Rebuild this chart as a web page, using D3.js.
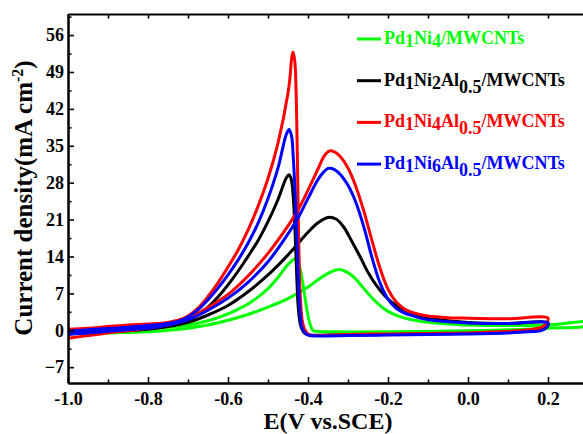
<!DOCTYPE html>
<html>
<head>
<meta charset="utf-8">
<script src="https://cdn.jsdelivr.net/npm/d3@7"></script>
<style>
  body { margin: 0; background: #fff; }
  svg text { font-family: "Times New Roman", "Liberation Serif", serif; font-weight: bold; }
</style>
</head>
<body>
<div id="canvas"></div>
<script>
"use strict"

// DATA: potential (V vs SCE), current density (mA cm-2), in scan order
// forward scan -1.0 -> 0.2, then backward scan 0.2 -> -1.0

let seriesNames = ["Pd1Ni4/MWCNTs", "Pd1Ni2Al0.5/MWCNTs", "Pd1Ni4Al0.5/MWCNTs", "Pd1Ni6Al0.5/MWCNTs"];

let scanPd1Ni4 = [
  [-1.0, -0.6], [-0.9, -0.5], [-0.8, -0.3], [-0.75, 0.0], [-0.70, 0.4], [-0.65, 1.0],
  [-0.60, 1.9], [-0.55, 3.0], [-0.50, 4.4], [-0.45, 6.0], [-0.40, 8.2], [-0.375, 9.6],
  [-0.35, 10.8], [-0.3275, 11.5], [-0.31, 11.3], [-0.29, 10.4], [-0.27, 8.8], [-0.25, 7.0],
  [-0.23, 5.4], [-0.21, 4.1], [-0.19, 3.2], [-0.17, 2.6], [-0.14, 2.0], [-0.10, 1.5],
  [-0.05, 1.2], [0.0, 1.0], [0.1, 0.9], [0.2, 1.0], [0.3, 1.5],
  [0.298, 0.9], [0.2, 0.4], [0.1, 0.1], [0.0, -0.1], [-0.2, -0.3], [-0.34, -0.3],
  [-0.38, -0.2], [-0.388, 0.0], [-0.396, 1.5], [-0.403, 4.0], [-0.411, 8.0], [-0.42, 11.8],
  [-0.427, 13.2], [-0.4325, 13.5], [-0.44, 13.2], [-0.45, 12.5], [-0.4625, 11.3],
  [-0.475, 10.0], [-0.50, 7.9], [-0.525, 6.3], [-0.55, 5.0], [-0.575, 4.0], [-0.60, 3.1],
  [-0.625, 2.4], [-0.65, 1.8], [-0.70, 1.0], [-0.75, 0.6], [-0.85, 0.2], [-0.95, -0.1],
  [-1.0, -0.3]
];

let scanPd1Ni2Al = [
  [-1.0, -0.6], [-0.9, -0.3], [-0.8, 0.2], [-0.75, 0.7], [-0.70, 1.5], [-0.65, 2.9],
  [-0.60, 4.7], [-0.55, 7.3], [-0.50, 10.5], [-0.45, 14.3], [-0.40, 18.6], [-0.375, 20.4],
  [-0.35, 21.4], [-0.33, 21.1], [-0.31, 19.5], [-0.29, 16.8], [-0.27, 14.0], [-0.25, 11.0],
  [-0.23, 8.6], [-0.21, 6.7], [-0.19, 5.3], [-0.17, 4.3], [-0.15, 3.6], [-0.12, 2.8],
  [-0.10, 2.4], [-0.05, 1.8], [0.0, 1.5], [0.1, 1.3], [0.2, 1.4],
  [0.197, 0.6], [0.185, 0.1], [0.15, -0.2], [0.1, -0.4], [0.0, -0.6], [-0.2, -0.8],
  [-0.35, -0.9], [-0.395, -0.9], [-0.408, -0.6], [-0.418, 0.8], [-0.424, 4.0],
  [-0.428, 10.0], [-0.432, 18.0], [-0.4367, 25.0], [-0.442, 28.7], [-0.4475, 29.5],
  [-0.455, 28.8], [-0.4625, 27.4], [-0.475, 24.8], [-0.50, 20.6], [-0.525, 17.0],
  [-0.55, 14.0], [-0.575, 11.2], [-0.60, 8.6], [-0.625, 6.3], [-0.65, 4.4], [-0.675, 3.0],
  [-0.70, 2.0], [-0.725, 1.4], [-0.75, 1.1], [-0.85, 0.6], [-0.95, 0.1], [-1.0, -0.2]
];

let scanPd1Ni4Al = [
  [-1.0, -1.5], [-0.95, -1.0], [-0.9, -0.5], [-0.85, -0.1], [-0.8, 0.4], [-0.75, 1.1],
  [-0.70, 2.3], [-0.65, 4.3], [-0.60, 6.8], [-0.55, 10.3], [-0.50, 14.6], [-0.45, 19.8],
  [-0.425, 22.8], [-0.40, 26.6], [-0.375, 30.6], [-0.36, 33.0], [-0.3475, 34.0],
  [-0.335, 33.9], [-0.32, 33.0], [-0.30, 30.8], [-0.28, 27.2], [-0.26, 22.5], [-0.24, 17.0],
  [-0.22, 11.8], [-0.20, 7.8], [-0.18, 5.4], [-0.16, 4.1], [-0.14, 3.4], [-0.12, 3.0],
  [-0.10, 2.7], [-0.05, 2.4], [0.0, 2.3], [0.1, 2.2], [0.2, 2.3],
  [0.197, 1.4], [0.185, 0.6], [0.15, 0.1], [0.1, -0.2], [0.0, -0.5], [-0.1, -0.6],
  [-0.2, -0.7], [-0.3, -0.8], [-0.37, -1.0], [-0.395, -0.9], [-0.405, -0.3], [-0.413, 1.2],
  [-0.419, 6.0], [-0.423, 16.0], [-0.426, 30.0], [-0.429, 43.0], [-0.433, 51.0],
  [-0.4375, 52.8], [-0.441, 51.5], [-0.445, 48.0], [-0.45, 45.0], [-0.475, 35.5],
  [-0.50, 28.8], [-0.525, 23.5], [-0.55, 19.0], [-0.575, 15.2], [-0.60, 12.0],
  [-0.625, 9.0], [-0.65, 6.4], [-0.675, 4.2], [-0.70, 2.7], [-0.725, 1.9], [-0.75, 1.5],
  [-0.80, 1.2], [-0.85, 1.0], [-0.90, 0.7], [-0.95, 0.4], [-1.0, 0.2]
];

let scanPd1Ni6Al = [
  [-1.0, -0.8], [-0.95, -0.5], [-0.9, -0.2], [-0.85, 0.1], [-0.8, 0.4], [-0.75, 1.0],
  [-0.70, 2.0], [-0.65, 3.8], [-0.60, 6.1], [-0.55, 9.1], [-0.50, 13.0], [-0.45, 18.3],
  [-0.425, 21.3], [-0.40, 25.0], [-0.375, 28.6], [-0.36, 30.1], [-0.35, 30.7], [-0.34, 30.7],
  [-0.325, 30.0], [-0.30, 27.5], [-0.28, 24.2], [-0.26, 19.5], [-0.24, 13.8], [-0.22, 9.0],
  [-0.20, 5.9], [-0.18, 4.2], [-0.16, 3.3], [-0.14, 2.8], [-0.12, 2.3], [-0.10, 2.0],
  [-0.05, 1.6], [0.0, 1.4], [0.1, 1.3], [0.2, 1.4],
  [0.197, 0.6], [0.185, 0.0], [0.15, -0.3], [0.1, -0.5], [0.0, -0.7], [-0.1, -0.8],
  [-0.2, -0.9], [-0.3, -1.0], [-0.37, -1.1], [-0.395, -1.0], [-0.405, -0.7], [-0.415, 0.5],
  [-0.42, 3.5], [-0.424, 9.0], [-0.428, 18.0], [-0.4325, 26.6], [-0.437, 33.0],
  [-0.441, 36.8], [-0.4475, 38.1], [-0.455, 37.0], [-0.4625, 34.8], [-0.475, 30.8],
  [-0.50, 25.0], [-0.525, 20.3], [-0.55, 16.5], [-0.575, 13.3], [-0.60, 10.5],
  [-0.625, 8.0], [-0.65, 5.8], [-0.675, 3.9], [-0.70, 2.5], [-0.725, 1.7], [-0.75, 1.3],
  [-0.85, 0.6], [-0.95, 0.1], [-1.0, -0.2]
];

let xTicks = [-1.0, -0.8, -0.6, -0.4, -0.2, 0.0, 0.2];
let xMinorTicks = [-0.9, -0.7, -0.5, -0.3, -0.1, 0.1];
let yTicks = [-7, 0, 7, 14, 21, 28, 35, 42, 49, 56];
let yMinorTicks = [-3.5, 3.5, 10.5, 17.5, 24.5, 31.5, 38.5, 45.5, 52.5, 59.5];

/* Configuration variables: drawing */
let svgWidth = 583;
let svgHeight = 434;

let plotLeft = 68;
let plotRight = 588; // frame runs past the picture edge
let plotTop = 14;
let plotBottom = 383;

let colors = ["#00ff00", "#000000", "#ff0000", "#0000ff"];
let scans = [scanPd1Ni4, scanPd1Ni2Al, scanPd1Ni4Al, scanPd1Ni6Al];

// CANVAS SETUP
let svg = d3.select("#canvas")
  .append("svg")
  .attr("width", svgWidth)
  .attr("height", svgHeight);

// SCALES
let xScale = d3.scaleLinear()
  .domain([-1.0, 0.3])
  .range([plotLeft, plotRight]);

let yScale = d3.scaleLinear()
  .domain([-10, 60])
  .range([plotBottom, plotTop]);

// CURVES
svg.append("clipPath")
  .attr("id", "plotClip")
  .append("rect")
  .attr("x", plotLeft)
  .attr("y", plotTop)
  .attr("width", plotRight - plotLeft)
  .attr("height", plotBottom - plotTop);

let line = d3.line()
  .x(function (d) { return xScale(d[0]); })
  .y(function (d) { return yScale(d[1]); })
  .curve(d3.curveCatmullRom.alpha(0.5));

svg.append("g")
  .attr("clip-path", "url(#plotClip)")
  .selectAll("path")
  .data(scans)
  .join("path")
  .attr("d", line)
  .attr("fill", "none")
  .attr("stroke", function (d, i) { return colors[i]; })
  .attr("stroke-width", 3)
  .attr("stroke-linejoin", "round");

// AXES (ticks point inward)
function styleAxis(g) {
  g.select(".domain").attr("stroke-width", 2);
  g.selectAll(".tick line").attr("stroke-width", 1.6);
  g.selectAll(".tick text")
    .attr("fill", "#000")
    .style("font-size", "18px")
    .style("font-family", "\"Times New Roman\", \"Liberation Serif\", serif")
    .style("font-weight", "bold");
}

svg.append("g")
  .attr("transform", "translate(0," + plotBottom + ")")
  .call(d3.axisBottom(xScale).tickValues(xTicks).tickSize(-6).tickSizeOuter(0)
    .tickPadding(9).tickFormat(function (d) { return d.toFixed(1); }))
  .call(styleAxis);

svg.append("g")
  .attr("transform", "translate(0," + plotBottom + ")")
  .call(d3.axisBottom(xScale).tickValues(xMinorTicks).tickSize(-3.5).tickSizeOuter(0).tickFormat(""))
  .call(styleAxis);

svg.append("g")
  .attr("transform", "translate(0," + plotTop + ")")
  .call(d3.axisTop(xScale).tickValues(xTicks.concat(xMinorTicks)).tickSize(-4.5).tickSizeOuter(0).tickFormat(""))
  .call(styleAxis);

svg.append("g")
  .attr("transform", "translate(" + plotLeft + ",0)")
  .call(d3.axisLeft(yScale).tickValues(yTicks).tickSize(-6).tickSizeOuter(0).tickPadding(4))
  .call(styleAxis);

svg.append("g")
  .attr("transform", "translate(" + plotLeft + ",0)")
  .call(d3.axisLeft(yScale).tickValues(yMinorTicks).tickSize(-3.5).tickSizeOuter(0).tickFormat(""))
  .call(styleAxis);

/**** label the axes ****/
svg.append("text")
  .attr("x", 328)
  .attr("y", 429)
  .attr("text-anchor", "middle")
  .style("font-size", "24px")
  .text("E(V vs.SCE)");

let yTitle = svg.append("text")
  .attr("transform", "translate(32,198) rotate(-90)")
  .attr("text-anchor", "middle")
  .style("font-size", "25px");

yTitle.append("tspan").text("Current density(mA cm");
yTitle.append("tspan").attr("dy", -9).style("font-size", "16px").text("-2");
yTitle.append("tspan").attr("dy", 9).text(")");

// LEGEND
let legendTop = 39;
let legendStep = 41.7;

seriesNames.forEach(function (name, i) {
  let cy = legendTop + i * legendStep;

  svg.append("line")
    .attr("x1", 357)
    .attr("x2", 381)
    .attr("y1", cy)
    .attr("y2", cy)
    .attr("stroke", colors[i])
    .attr("stroke-width", 3);

  let label = svg.append("text")
    .attr("x", 384)
    .attr("y", cy + 5)
    .attr("fill", colors[i])
    .style("font-size", "18px");

  // numbers after element symbols are drawn lowered
  let parts = name.split(/(\d+(?:\.\d+)?)/).filter(function (p) { return p.length > 0; });
  let shift = 0;
  parts.forEach(function (p) {
    let target = 0;
    if (/^\d/.test(p)) {
      target = p.indexOf(".") >= 0 ? 7 : 3;
    }
    label.append("tspan").attr("dy", target - shift).text(p);
    shift = target;
  });
});
</script>
</body>
</html>
